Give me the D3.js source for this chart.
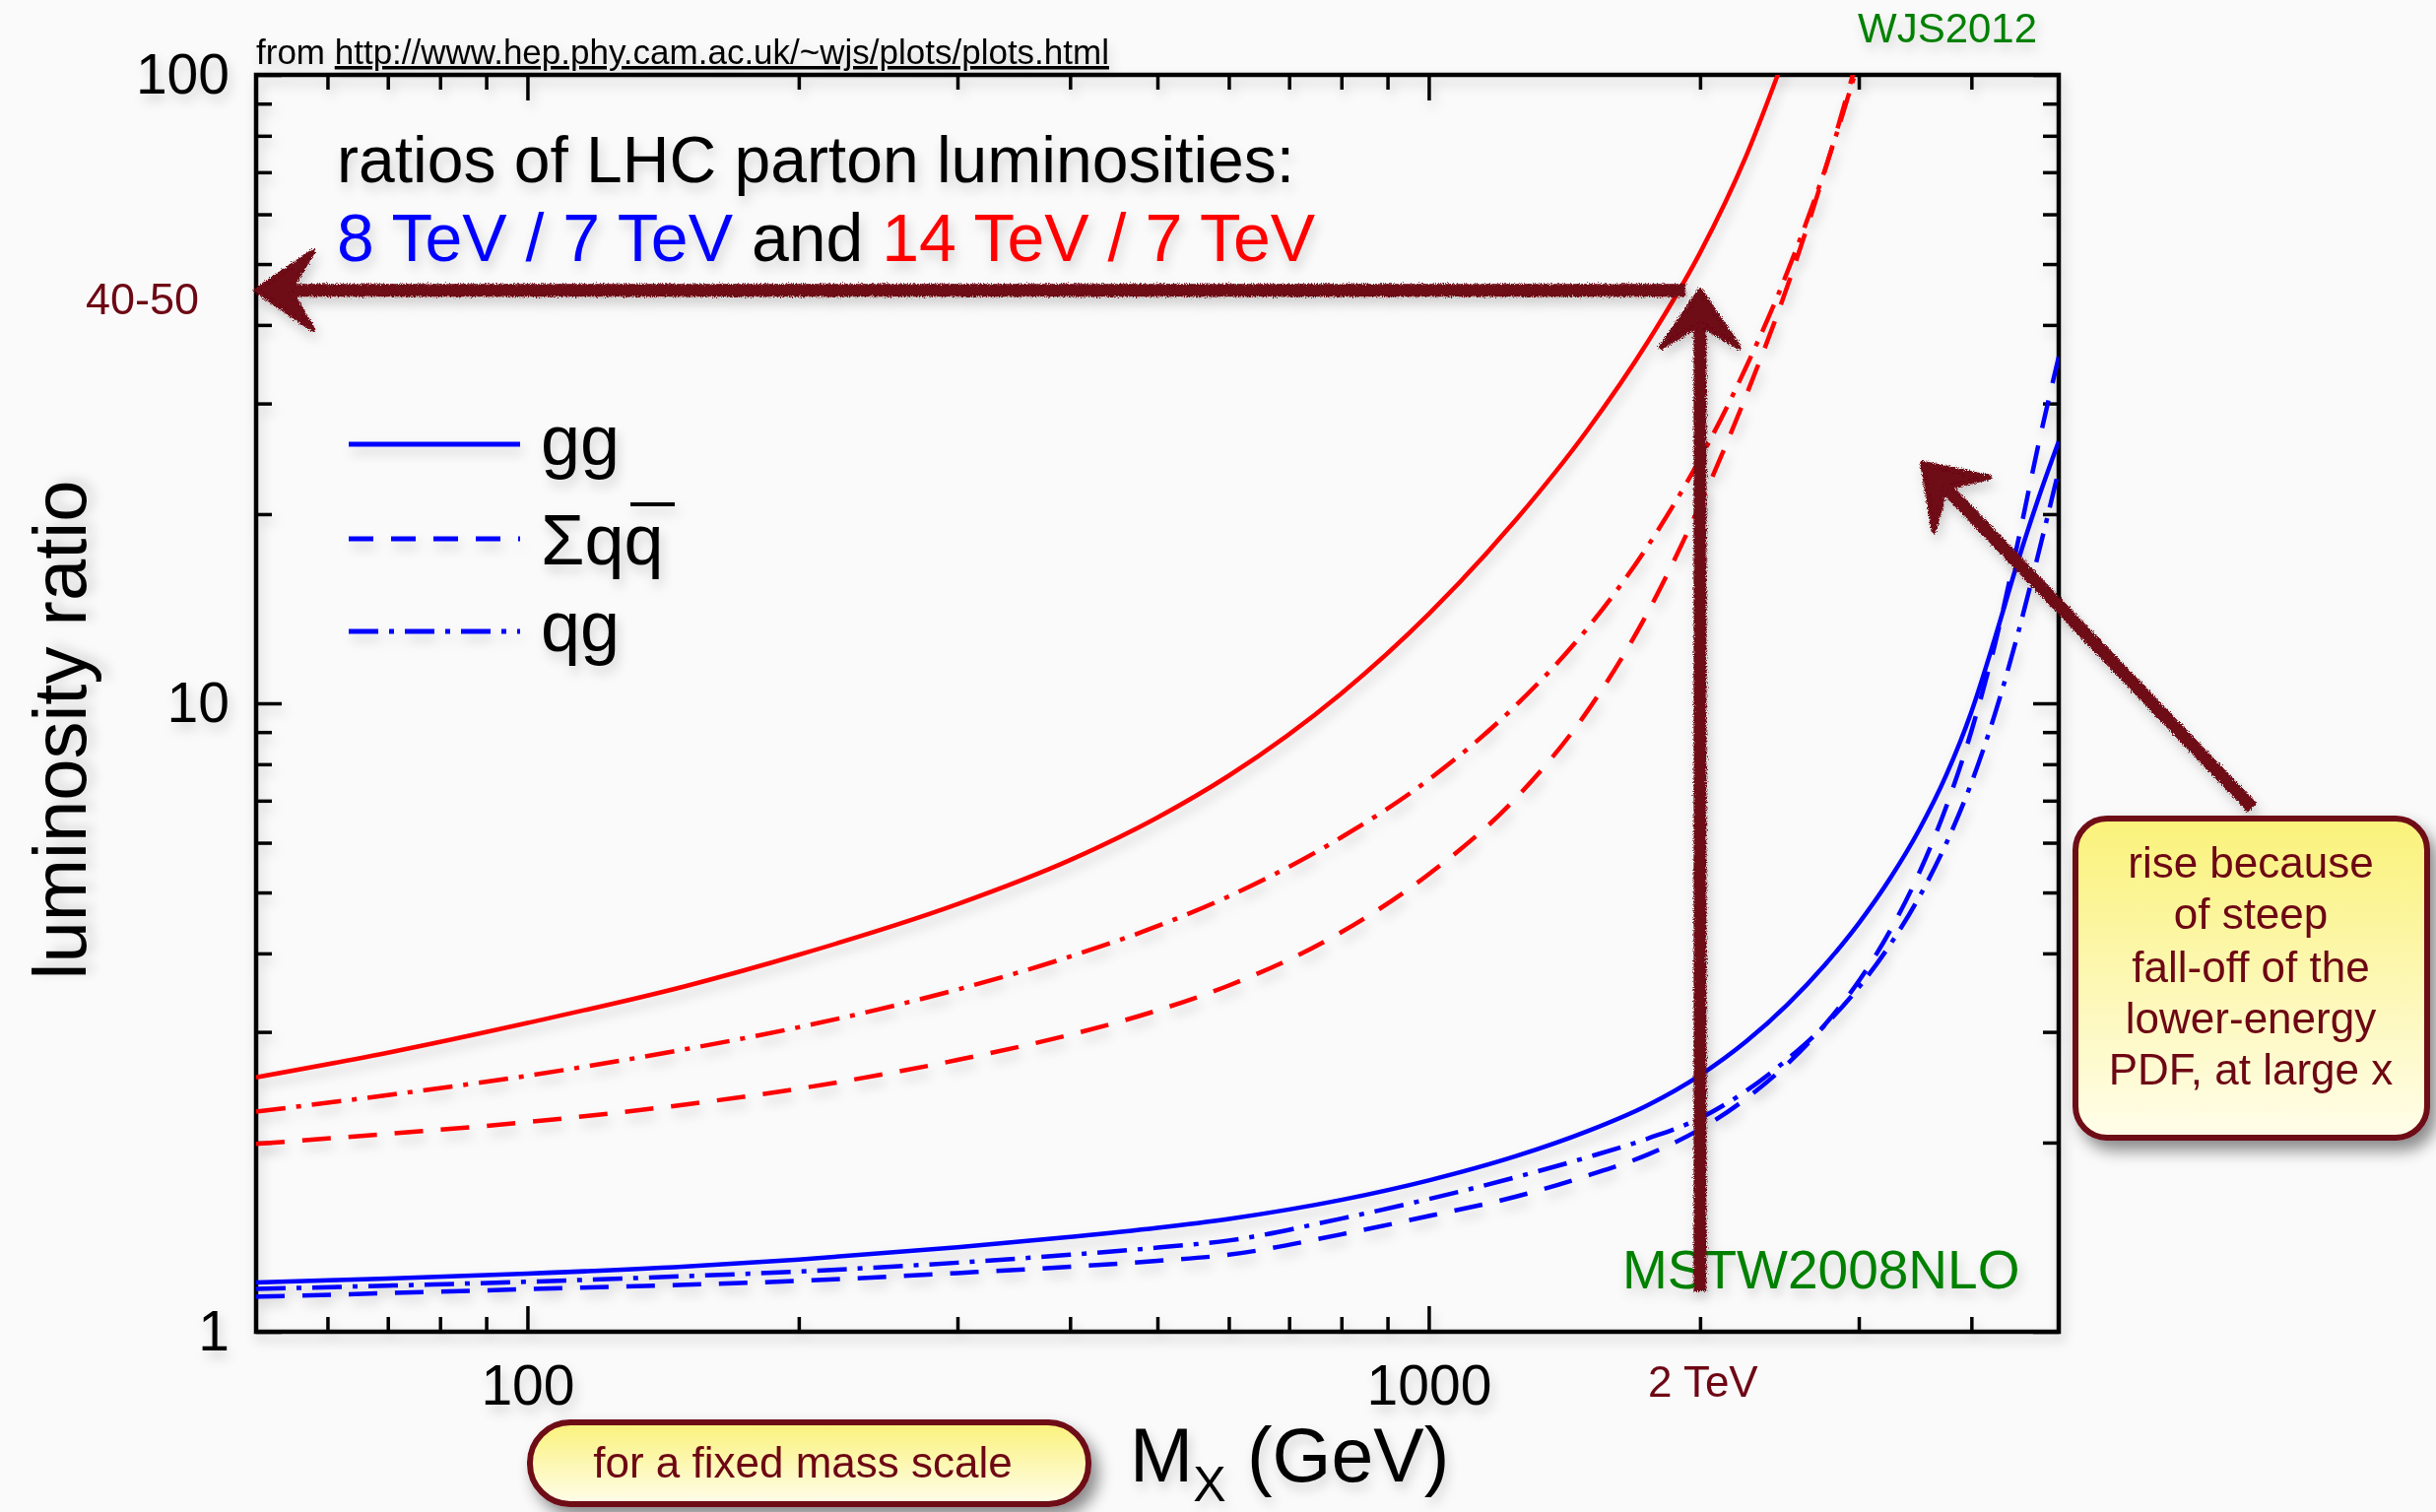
<!DOCTYPE html>
<html>
<head>
<meta charset="utf-8">
<script src="https://cdn.jsdelivr.net/npm/d3@7"></script>
<style>
  body { margin: 0; background: #fafafa; }
  svg { display: block; font-family: "Liberation Sans", Arial, Helvetica, sans-serif; }
</style>
</head>
<body>
<svg id="chart" width="2473" height="1535"></svg>
<script>
// ---- data ----
const mass = [50, 70, 100, 150, 200, 300, 400, 500, 600, 800, 1000, 1250, 1500, 1750, 2000,
              2250, 2500, 2750, 3000, 3250, 3500, 3750, 4000, 4250, 4500, 4750, 5000];

// 8 TeV / 7 TeV (blue)
const gg8   = [1.198, 1.215, 1.237, 1.270, 1.303, 1.363, 1.415, 1.463, 1.512, 1.621, 1.741, 1.903, 2.085, 2.294, 2.56,
               2.897, 3.316, 3.832, 4.467, 5.265, 6.29, 7.68, 9.69, 12.73, 16.74, 21.24, 26.1];
const qqb8  = [1.137, 1.152, 1.169, 1.188, 1.205, 1.240, 1.269, 1.297, 1.326, 1.429, 1.528, 1.641, 1.772, 1.914, 2.10,
               2.35, 2.668, 3.078, 3.615, 4.346, 5.37, 6.84, 9.03, 12.44, 17.93, 25.9, 35.6];
const qg8   = [1.17, 1.184, 1.201, 1.226, 1.247, 1.288, 1.326, 1.361, 1.397, 1.514, 1.626, 1.762, 1.895, 2.03, 2.187,
               2.417, 2.714, 3.072, 3.531, 4.13, 4.915, 5.98, 7.47, 9.64, 12.83, 17.37, 23.5];

// 14 TeV / 7 TeV (red) - these run off the top of the frame
const gg14  = [2.54, 2.78, 3.10, 3.55, 3.98, 4.79, 5.63, 6.58, 7.67, 10.37, 13.87, 19.6, 27.2, 37.6, 52.1,
               74.3, 110, null, null, null, null, null, null, null, null, null, null];
const qqb14 = [1.99, 2.065, 2.156, 2.30, 2.437, 2.707, 2.969, 3.246, 3.556, 4.324, 5.346, 7.07, 9.72, 13.96, 20.7,
               30.9, 46.1, 70.2, 108, null, null, null, null, null, null, null, null];
const qg14  = [2.24, 2.38, 2.555, 2.817, 3.052, 3.504, 3.954, 4.42, 4.93, 6.12, 7.56, 9.93, 13.17, 17.8, 24.5,
               34.3, 48.6, 70.5, 105, null, null, null, null, null, null, null, null];

const xMajor = [100, 1000];
const xMinor = [60, 70, 80, 90, 200, 300, 400, 500, 600, 700, 800, 900, 2000, 3000, 4000];
const yMajor = [1, 10, 100];
const yMinor = [2, 3, 4, 5, 6, 7, 8, 9, 20, 30, 40, 50, 60, 70, 80, 90];

const legendNames = ["gg", "Σqq", "qg"];

// ---- setup ----
const svg = d3.select("#chart");
const pLeft = 260, pRight = 2090, pTop = 76, pBottom = 1352;

const x = d3.scaleLog().domain([50, 5000]).range([pLeft, pRight]);
const y = d3.scaleLog().domain([1, 100]).range([pBottom, pTop]);

const DARK = "#6e0714";
const dashes = { solid: null, dash: "29,18", dashdot: "30,11,5,11" };

const defs = svg.append("defs");
const sh = defs.append("filter").attr("id", "shadow")
  .attr("x", "-20%").attr("y", "-20%").attr("width", "140%").attr("height", "140%");
sh.append("feDropShadow").attr("dx", 3).attr("dy", 7).attr("stdDeviation", 6)
  .attr("flood-color", "#000").attr("flood-opacity", 0.16);

const bsh = defs.append("filter").attr("id", "boxshadow")
  .attr("x", "-20%").attr("y", "-20%").attr("width", "150%").attr("height", "150%");
bsh.append("feDropShadow").attr("dx", 7).attr("dy", 10).attr("stdDeviation", 8)
  .attr("flood-color", "#000").attr("flood-opacity", 0.45);

const rough = defs.append("filter").attr("id", "rough")
  .attr("x", "-10%").attr("y", "-10%").attr("width", "120%").attr("height", "120%");
rough.append("feTurbulence").attr("type", "fractalNoise").attr("baseFrequency", 0.9)
  .attr("numOctaves", 2).attr("result", "noise");
rough.append("feDisplacementMap").attr("in", "SourceGraphic").attr("in2", "noise")
  .attr("scale", 6).attr("xChannelSelector", "R").attr("yChannelSelector", "G").attr("result", "d");
rough.append("feDropShadow").attr("dx", 3).attr("dy", 7).attr("stdDeviation", 6)
  .attr("flood-color", "#000").attr("flood-opacity", 0.18);

const grad = defs.append("linearGradient").attr("id", "boxfill")
  .attr("x1", 0).attr("y1", 0).attr("x2", 0).attr("y2", 1);
grad.append("stop").attr("offset", "0%").attr("stop-color", "#faf27a");
grad.append("stop").attr("offset", "100%").attr("stop-color", "#fffdea");

defs.append("clipPath").attr("id", "plotclip")
  .append("rect").attr("x", pLeft).attr("y", pTop).attr("width", pRight - pLeft).attr("height", pBottom - pTop);

// ---- axes (ticks inward on all four sides) ----
const axes = svg.append("g").attr("filter", "url(#shadow)");

function tickStyle(g) {
  g.select(".domain").remove();
  g.selectAll(".tick line").attr("stroke", "#000").attr("stroke-width", 3.5);
  g.selectAll(".tick text").attr("fill", "#000").attr("font-size", 57)
    .attr("font-family", "Liberation Sans, Arial, sans-serif");
}

axes.append("g").attr("transform", `translate(0,${pBottom})`)
  .call(d3.axisBottom(x).tickValues(xMajor).tickSize(-26).tickPadding(34).tickFormat(d3.format("d")))
  .call(tickStyle);
axes.append("g").attr("transform", `translate(0,${pBottom})`)
  .call(d3.axisBottom(x).tickValues(xMinor).tickSize(-15).tickFormat(""))
  .call(tickStyle);
axes.append("g").attr("transform", `translate(0,${pTop})`)
  .call(d3.axisTop(x).tickValues(xMajor).tickSize(-26).tickFormat(""))
  .call(tickStyle);
axes.append("g").attr("transform", `translate(0,${pTop})`)
  .call(d3.axisTop(x).tickValues(xMinor).tickSize(-15).tickFormat(""))
  .call(tickStyle);
axes.append("g").attr("transform", `translate(${pLeft},0)`)
  .call(d3.axisLeft(y).tickValues(yMajor).tickSize(-26).tickPadding(27).tickFormat(d3.format("d")))
  .call(tickStyle);
axes.append("g").attr("transform", `translate(${pLeft},0)`)
  .call(d3.axisLeft(y).tickValues(yMinor).tickSize(-16).tickFormat(""))
  .call(tickStyle);
axes.append("g").attr("transform", `translate(${pRight},0)`)
  .call(d3.axisRight(y).tickValues(yMajor).tickSize(-26).tickFormat(""))
  .call(tickStyle);
axes.append("g").attr("transform", `translate(${pRight},0)`)
  .call(d3.axisRight(y).tickValues(yMinor).tickSize(-16).tickFormat(""))
  .call(tickStyle);

axes.append("rect").attr("x", pLeft).attr("y", pTop)
  .attr("width", pRight - pLeft).attr("height", pBottom - pTop)
  .attr("fill", "none").attr("stroke", "#000").attr("stroke-width", 4.5);

// axis titles
const xt = svg.append("text").attr("x", 1147).attr("y", 1504).attr("font-size", 77)
  .attr("fill", "#000").attr("filter", "url(#shadow)");
xt.append("tspan").text("M");
xt.append("tspan").attr("font-size", 50).attr("dy", 20).text("X");
xt.append("tspan").attr("dy", -20).text(" (GeV)");

svg.append("text").attr("transform", "translate(87,741) rotate(-90)")
  .attr("text-anchor", "middle").attr("font-size", 76).attr("fill", "#000")
  .attr("filter", "url(#shadow)").text("luminosity ratio");

// ---- curves ----
const series = [
  { vals: gg14,  color: "#ff0000", style: "solid" },
  { vals: qqb14, color: "#ff0000", style: "dash" },
  { vals: qg14,  color: "#ff0000", style: "dashdot" },
  { vals: gg8,   color: "#0000ff", style: "solid" },
  { vals: qqb8,  color: "#0000ff", style: "dash" },
  { vals: qg8,   color: "#0000ff", style: "dashdot" }
];

const line = d3.line()
  .defined(d => d[1] != null)
  .x(d => x(d[0]))
  .y(d => y(d[1]))
  .curve(d3.curveMonotoneX);

const curves = svg.append("g").attr("clip-path", "url(#plotclip)")
  .append("g").attr("filter", "url(#shadow)");

curves.selectAll("path").data(series).join("path")
  .attr("d", s => line(mass.map((m, i) => [m, s.vals[i]])))
  .attr("fill", "none")
  .attr("stroke", s => s.color)
  .attr("stroke-width", 4.5)
  .attr("stroke-dasharray", s => dashes[s.style]);

// ---- legend ----
const legend = svg.append("g").attr("filter", "url(#shadow)");
const legStyles = ["solid", "dash", "dashdot"];
const legY = [451, 547, 641];
const legBase = [472, 573, 661];
legStyles.forEach((st, i) => {
  legend.append("line").attr("x1", 354).attr("x2", 528).attr("y1", legY[i]).attr("y2", legY[i])
    .attr("stroke", "#0000ff").attr("stroke-width", 5).attr("stroke-dasharray", st === "dash" ? "25,18" : dashes[st]);
  legend.append("text").attr("x", 549).attr("y", legBase[i]).attr("font-size", 72)
    .attr("fill", "#000").text(legendNames[i]);
});
// bar over the antiquark
legend.append("line").attr("x1", 640).attr("x2", 685).attr("y1", 512).attr("y2", 512)
  .attr("stroke", "#000").attr("stroke-width", 4);

// ---- titles / labels ----
const title = svg.append("g").attr("filter", "url(#shadow)");
title.append("text").attr("x", 342).attr("y", 185).attr("font-size", 66).attr("fill", "#000")
  .text("ratios of LHC parton luminosities:");
const t2 = title.append("text").attr("x", 342).attr("y", 265).attr("font-size", 68);
t2.append("tspan").attr("fill", "#0000ff").text("8 TeV / 7 TeV");
t2.append("tspan").attr("fill", "#000").text(" and ");
t2.append("tspan").attr("fill", "#ff0000").text("14 TeV / 7 TeV");

const src = svg.append("text").attr("x", 260).attr("y", 65).attr("font-size", 35).attr("fill", "#000")
  .attr("filter", "url(#shadow)");
src.append("tspan").text("from ");
src.append("tspan").attr("text-decoration", "underline").text("http://www.hep.phy.cam.ac.uk/~wjs/plots/plots.html");

svg.append("text").attr("x", 1886).attr("y", 43).attr("font-size", 42).attr("fill", "#008000")
  .attr("filter", "url(#shadow)").text("WJS2012");
svg.append("text").attr("x", 1647).attr("y", 1308).attr("font-size", 55).attr("fill", "#008000")
  .attr("filter", "url(#shadow)").text("MSTW2008NLO");

svg.append("text").attr("x", 202).attr("y", 319).attr("text-anchor", "end").attr("font-size", 45)
  .attr("fill", DARK).text("40-50");
svg.append("text").attr("x", 1673).attr("y", 1418).attr("font-size", 44)
  .attr("fill", DARK).text("2 TeV");

// ---- hand-drawn arrows ----
const arrows = [
  [[1928, 45.4], [50, 45.4]],
  [[2000, 1.16], [2000, 45.4]],
  [[8200, 6.82], [3530, 24.1]]
];
const arrG = svg.append("g").attr("filter", "url(#rough)");
arrows.forEach(a => {
  const x0 = x(a[0][0]), y0 = y(a[0][1]), x1 = x(a[1][0]), y1 = y(a[1][1]);
  const ang = Math.atan2(y1 - y0, x1 - x0);
  const back = ang + Math.PI;
  const L = 70, spread = 0.6;
  arrG.append("line").attr("x1", x0).attr("y1", y0)
    .attr("x2", x1 + Math.cos(back) * 20).attr("y2", y1 + Math.sin(back) * 20)
    .attr("stroke", DARK).attr("stroke-width", 13);
  const b1 = [x1 + Math.cos(back + spread) * L, y1 + Math.sin(back + spread) * L];
  const b2 = [x1 + Math.cos(back - spread) * L, y1 + Math.sin(back - spread) * L];
  const n = [x1 + Math.cos(back) * 34, y1 + Math.sin(back) * 34];
  arrG.append("path")
    .attr("d", `M${x1},${y1}L${b1[0]},${b1[1]}L${n[0]},${n[1]}L${b2[0]},${b2[1]}Z`)
    .attr("fill", DARK).attr("stroke", DARK).attr("stroke-width", 5).attr("stroke-linejoin", "round");
});

// ---- callout boxes ----
const boxes = svg.append("g");
boxes.append("rect").attr("x", 538).attr("y", 1444).attr("width", 567).attr("height", 83)
  .attr("rx", 41).attr("fill", "url(#boxfill)").attr("stroke", DARK).attr("stroke-width", 6)
  .attr("filter", "url(#boxshadow)");
boxes.append("text").attr("x", 815).attr("y", 1500).attr("text-anchor", "middle")
  .attr("font-size", 44).attr("fill", DARK).text("for a fixed mass scale");

boxes.append("rect").attr("x", 2107).attr("y", 831).attr("width", 357).attr("height", 324)
  .attr("rx", 32).attr("fill", "url(#boxfill)").attr("stroke", DARK).attr("stroke-width", 6)
  .attr("filter", "url(#boxshadow)");
const riseLines = ["rise because", "of steep", "fall-off of the", "lower-energy", "PDF, at large x"];
const riseBase = [891, 943, 997, 1049, 1101];
boxes.selectAll("text.rise").data(riseLines).join("text").attr("class", "rise")
  .attr("x", 2285).attr("y", (d, i) => riseBase[i]).attr("text-anchor", "middle")
  .attr("font-size", 44).attr("fill", DARK).text(d => d);
</script>
</body>
</html>
